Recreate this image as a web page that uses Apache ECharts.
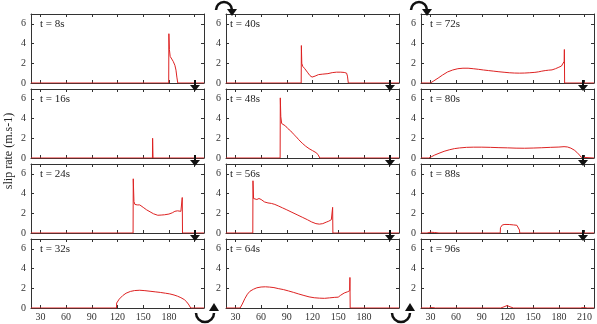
<!DOCTYPE html>
<html>
<head>
<meta charset="utf-8">
<script src="https://cdn.jsdelivr.net/npm/echarts@6/dist/echarts.min.js"></script>
<style>
  html, body { margin: 0; padding: 0; background: #fff; }
  #chart { width: 597px; height: 324px; }
</style>
</head>
<body>
<div id="chart"></div>
<script>
// 各时刻的滑动速率剖面 [位置, slip rate]
var t8 = [[19,0],[179.8,0],[180,5],[180.6,3.4],[181.5,2.7],[183,2.5],[185,2.2],[187,1.8],[188.3,1.3],[189.3,0.6],[190.4,0],[221,0]];
var t16 = [[19,0],[160.8,0],[161,2],[161.5,0],[221,0]];
var t24 = [[19,0],[138.2,0],[138.4,5.5],[139.2,3.2],[140.3,2.9],[143,2.85],[146,2.85],[150,2.6],[154,2.35],[158,2.15],[162,1.95],[167,1.8],[171,1.82],[175,1.85],[180,1.92],[184,2.05],[187,2.2],[190,2.25],[194,2.2],[195.2,2.3],[195.6,3.6],[195.9,0],[221,0]];
var t32 = [[19,0],[118.8,0],[119,0.5],[120,0.55],[122,0.9],[126,1.25],[130,1.5],[135,1.68],[140,1.77],[146,1.8],[152,1.76],[158,1.7],[164,1.64],[170,1.58],[176,1.5],[181,1.43],[186,1.32],[190,1.2],[194,1.05],[198,0.85],[201,0.6],[203.5,0.3],[205.5,0],[221,0]];
var t40 = [[19,0],[106.8,0],[107,3.8],[107.5,2.0],[108.5,1.7],[111,1.45],[114,1.1],[117,0.75],[119.5,0.6],[123,0.7],[127,0.85],[132,0.9],[138,0.95],[143,1.05],[148,1.1],[153,1.1],[157,1.07],[159.8,1.0],[160.8,0.7],[161.8,0],[221,0]];
var t48 = [[19,0],[82.2,0],[82.4,6.1],[83,4.2],[84,3.5],[86,3.4],[88.5,3.25],[91,3.0],[94.5,2.75],[97.5,2.45],[100.5,2.2],[104,1.85],[108,1.5],[112,1.2],[116,0.95],[120,0.75],[124,0.55],[126.5,0.35],[128.5,0],[221,0]];
var t56 = [[19,0],[50.3,0],[50.5,5.3],[51.2,3.5],[52.5,3.3],[55,3.4],[57.5,3.5],[60,3.4],[64,3.15],[68,3.05],[72,3.0],[76,2.9],[80,2.75],[85,2.55],[90,2.35],[96,2.1],[102,1.85],[108,1.6],[114,1.35],[119,1.12],[124,0.95],[128,0.9],[132,0.95],[136,1.1],[139,1.2],[142,1.35],[143.2,1.5],[143.5,2.6],[143.8,0],[221,0]];
var t64 = [[19,0],[35.5,0],[38,0.4],[41,0.95],[44,1.4],[47,1.7],[51,1.9],[55,2.05],[60,2.13],[65,2.15],[70,2.12],[75,2.07],[80,1.97],[86,1.87],[92,1.73],[98,1.58],[104,1.42],[110,1.27],[116,1.13],[122,1.04],[128,1.0],[134,0.98],[140,1.03],[146,1.08],[150,1.1],[153,1.3],[157,1.52],[161,1.65],[163.4,1.75],[163.7,3.1],[164,0],[221,0]];
var t72 = [[19,0],[30,0],[34,0.22],[39,0.5],[44,0.8],[50,1.12],[56,1.32],[62,1.45],[68,1.5],[74,1.5],[80,1.45],[86,1.39],[92,1.32],[98,1.26],[104,1.2],[110,1.14],[116,1.09],[122,1.04],[128,1.01],[134,1.0],[140,1.01],[146,1.04],[152,1.08],[156,1.13],[160,1.2],[164,1.26],[168,1.3],[172,1.33],[176,1.45],[180,1.6],[183,1.72],[185,1.9],[186.2,2.2],[186.4,3.4],[186.7,0],[221,0]];
var t80 = [[19,0],[28,0],[31,0.12],[35,0.3],[40,0.48],[46,0.68],[52,0.83],[58,0.95],[64,1.02],[72,1.08],[80,1.1],[90,1.1],[100,1.08],[110,1.05],[120,1.03],[130,1.0],[140,0.99],[150,1.01],[160,1.04],[170,1.08],[180,1.11],[186,1.15],[190,1.12],[194,1.0],[198,0.8],[201,0.58],[204,0.3],[206,0.08],[207,0],[221,0]];
var t88 = [[19,0],[26,0],[30,0.08],[35,0.05],[40,0],[111.5,0],[111.8,0.55],[112.5,0.72],[114,0.82],[117,0.87],[122,0.86],[127,0.82],[131,0.78],[133.3,0.7],[134,0.3],[134.3,0],[221,0]];
var t96 = [[19,0],[28,0],[32,0.05],[36,0],[112,0],[116,0.12],[119.5,0.25],[123,0.12],[127,0],[205,0],[209,0.05],[213,0],[221,0]];

// 按列排列，每列从上到下四个时刻
var panelData = [t8, t16, t24, t32, t40, t48, t56, t64, t72, t80, t88, t96];
var panelNames = ['t = 8s','t = 16s','t = 24s','t = 32s','t = 40s','t = 48s','t = 56s','t = 64s','t = 72s','t = 80s','t = 88s','t = 96s'];
var xTicks = [30, 60, 90, 120, 150, 180, 210];
var xLabelsShort = [30, 60, 90, 120, 150, 180];
var yTicks = [0, 2, 4, 6];
var yLabelsNoZero = [2, 4, 6];

var colLeft = [31, 226, 421];
var rowTop = [14, 89, 164, 239];
var W = 173, H = 69;
var FONT = '"Liberation Serif"';
var AX = '#333';
var RED = '#dd2222';

var grids = [], xAxes = [], yAxes = [], series = [], graphics = [];

for (var c = 0; c < 3; c++) {
	for (var r = 0; r < 4; r++) {
		var i = c * 4 + r;
		grids.push({ left: colLeft[c], top: rowTop[r], width: W, height: H });
		// 下方和上方x轴（上方只画刻度）
		xAxes.push({
			type: 'value', gridIndex: i, min: 19, max: 221, position: 'bottom',
			axisLine: { show: true, onZero: false, lineStyle: { color: AX } },
			axisTick: { show: true, inside: true, length: 3, customValues: xTicks, lineStyle: { color: AX } },
			axisLabel: { show: r == 3, customValues: c == 2 ? xTicks : xLabelsShort, fontFamily: FONT, fontSize: 10, color: AX, margin: 4 },
			splitLine: { show: false }
		});
		xAxes.push({
			type: 'value', gridIndex: i, min: 19, max: 221, position: 'top',
			axisLine: { show: true, onZero: false, lineStyle: { color: AX } },
			axisTick: { show: true, inside: true, length: 3, customValues: xTicks, lineStyle: { color: AX } },
			axisLabel: { show: false },
			splitLine: { show: false }
		});
		// 最下面一行第二、三列的0被弯箭头挡住
		yAxes.push({
			type: 'value', gridIndex: i, min: 0, max: 7, position: 'left',
			axisLine: { show: true, onZero: false, lineStyle: { color: AX } },
			axisTick: { show: true, inside: true, length: 3, customValues: yTicks, lineStyle: { color: AX } },
			axisLabel: { show: true, customValues: (r == 3 && c > 0) ? yLabelsNoZero : yTicks, fontFamily: FONT, fontSize: 10, color: AX, margin: 5 },
			splitLine: { show: false }
		});
		yAxes.push({
			type: 'value', gridIndex: i, min: 0, max: 7, position: 'right',
			axisLine: { show: true, onZero: false, lineStyle: { color: AX } },
			axisTick: { show: true, inside: true, length: 3, customValues: yTicks, lineStyle: { color: AX } },
			axisLabel: { show: false },
			splitLine: { show: false }
		});
		series.push({
			type: 'line', xAxisIndex: i * 2, yAxisIndex: i * 2, data: panelData[i],
			showSymbol: false, symbol: 'none', animation: false,
			lineStyle: { color: RED, width: 1 }
		});
		graphics.push({
			type: 'text', left: colLeft[c] + (c == 1 ? 4 : 9), top: rowTop[r] + 5,
			style: { text: panelNames[i], font: '11px "Liberation Serif"', fill: '#222' }
		});
	}
}

// y轴标题
graphics.push({
	type: 'text', x: 3, y: 151, rotation: Math.PI / 2,
	style: { text: 'slip rate (m.s-1)', font: '12px "Liberation Serif"', fill: '#222', align: 'center', verticalAlign: 'top' }
});

// 箭头装饰：列内向下
var downX = [195, 390, 583];
var downY = [80, 155, 230];
downX.forEach(function(x){
	downY.forEach(function(y){
		graphics.push({ type: 'line', shape: { x1: x, y1: y, x2: x, y2: y + 7 }, style: { stroke: '#111', lineWidth: 2 }, z: 10 });
		graphics.push({ type: 'polygon', shape: { points: [[x - 5, y + 5], [x + 5, y + 5], [x, y + 11]] }, style: { fill: '#111' }, z: 10 });
	});
});
// 顶部弯箭头（进入第二、三列）
[224, 419].forEach(function(cx){
	graphics.push({ type: 'arc', shape: { cx: cx, cy: 10, r: 8, startAngle: Math.PI, endAngle: Math.PI * 2, clockwise: true }, style: { stroke: '#111', lineWidth: 2.5, fill: null }, z: 10 });
	graphics.push({ type: 'polygon', shape: { points: [[cx + 3, 9], [cx + 13, 9], [cx + 8, 16]] }, style: { fill: '#111' }, z: 10 });
});
// 底部弯箭头（离开第一、二列）
[205, 401].forEach(function(cx){
	graphics.push({ type: 'arc', shape: { cx: cx, cy: 313, r: 9, startAngle: 0, endAngle: Math.PI, clockwise: true }, style: { stroke: '#111', lineWidth: 2.5, fill: null }, z: 10 });
	graphics.push({ type: 'polygon', shape: { points: [[cx + 4, 311], [cx + 14, 311], [cx + 9, 303]] }, style: { fill: '#111' }, z: 10 });
});

var myChart = echarts.init(document.getElementById('chart'));
myChart.setOption({
	animation: false,
	grid: grids,
	xAxis: xAxes,
	yAxis: yAxes,
	series: series,
	graphic: graphics
});
</script>
</body>
</html>
